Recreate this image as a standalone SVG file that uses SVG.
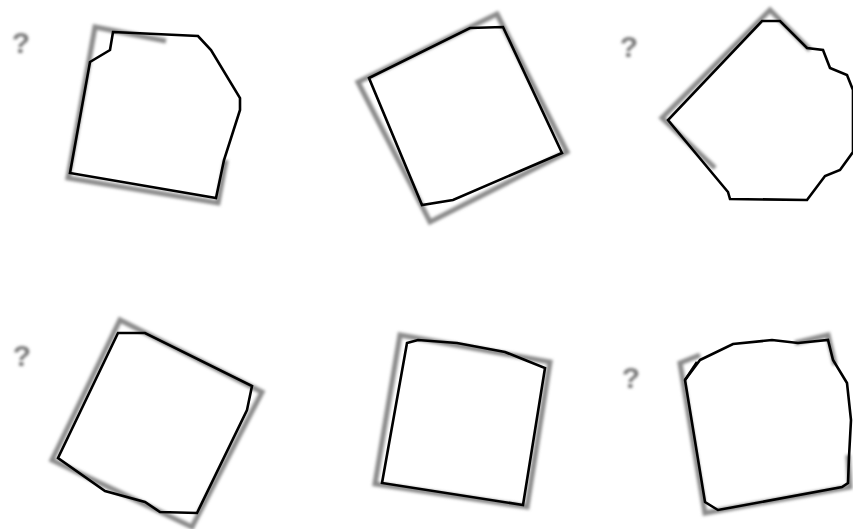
<svg xmlns="http://www.w3.org/2000/svg" width="853" height="529" viewBox="0 0 853 529">
<defs>
<filter id="blur" x="-20%" y="-20%" width="140%" height="140%"><feGaussianBlur stdDeviation="1.6"/></filter>
<filter id="tblur" x="-50%" y="-50%" width="200%" height="200%"><feGaussianBlur stdDeviation="1.4"/></filter>
</defs>
<style>
.ghost{fill:none;stroke:#8a8a8a;stroke-width:5;stroke-linejoin:miter;filter:url(#blur)}
.shape{fill:none;stroke:#000;stroke-width:2.6;stroke-linejoin:miter}
.q{font-family:"Liberation Sans",Arial,sans-serif;font-size:30px;font-weight:bold;fill:#777;text-anchor:middle;filter:url(#tblur)}
</style>
<rect width="853" height="529" fill="#fff"/>
<g id="panel1">
<text class="q" x="21" y="53">?</text>
<path class="ghost" d="M166,41 L95,27 L68,178 L218,203 L226,160"/>
<path class="shape" d="M113,32 L198,36 L211,50 L240,98 L240,110 L224,160 L216,198 L70,173 L90,62 L110,50 Z"/>
</g>
<g id="panel2">
<path class="ghost" d="M497,14 L567,152 L430,222 L358,82 Z"/>
<path class="shape" d="M369,78 L470,28 L503,27 L562,153 L453,200 L422,205 Z"/>
</g>
<g id="panel3">
<text class="q" x="629" y="57">?</text>
<path class="ghost" d="M715,168 L662,118 L770,10 L810,50"/>
<path class="shape" d="M762,21 L780,21 L807,48 L823,50 L830,68 L847,75 L853,90 L853,152 L840,170 L825,176 L807,200 L730,199 L728,192 L668,120 Z"/>
</g>
<g id="panel4">
<text class="q" x="22" y="366">?</text>
<path class="ghost" d="M120,320 L262,392 L192,527 L52,460 Z"/>
<path class="shape" d="M118,333 L145,333 L252,386 L247,410 L197,513 L160,512 L145,502 L105,491 L58,458 Z"/>
</g>
<g id="panel5">
<path class="ghost" d="M400,335 L550,362 L527,507 L375,484 Z"/>
<path class="shape" d="M407,343 L418,340 L457,343 L505,352 L525,360 L545,368 L523,505 L382,483 Z"/>
</g>
<g id="panel6">
<text class="q" x="631" y="388">?</text>
<path class="ghost" d="M700,355 L680,363 L705,513 L850,487 L848,455"/>
<path class="ghost" d="M795,343 L828,335 L835,365"/>
<path class="shape" d="M700,360 L733,344 L772,340 L798,343 L828,340 L833,360 L847,383 L851,420 L849,457 L848,483 L842,487 L718,510 L705,502 L685,380 Z"/>
<path class="shape" d="M685,380 L697,362"/>
</g>
</svg>
